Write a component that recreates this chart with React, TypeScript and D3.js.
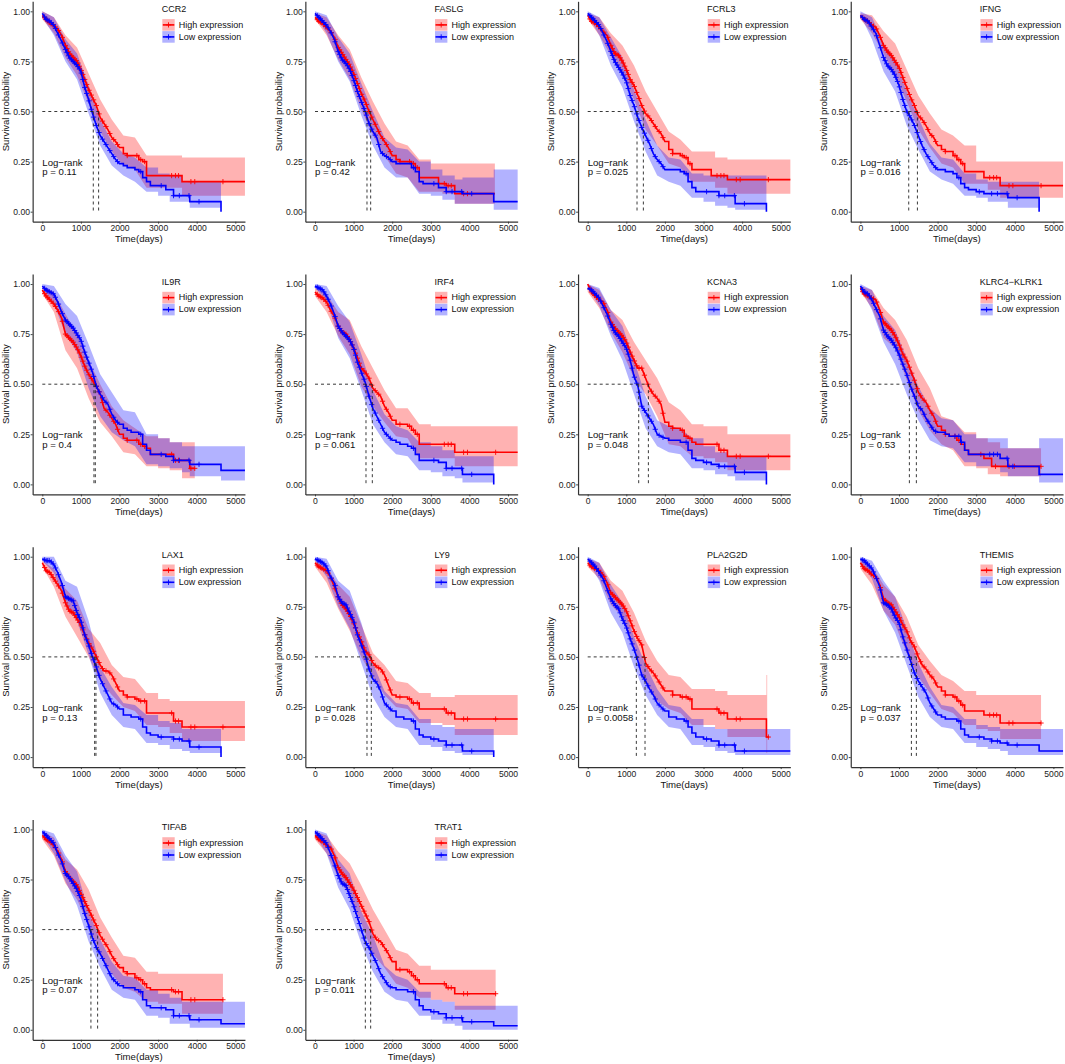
import { useEffect, useRef } from 'react';
import * as d3 from 'd3';

// knots shared by all curves, values below are % survival
const SURV_T = [0,100,200,300,400,500,600,700,800,900,1000,1100,1200,1300,1400,1500,1600,1700,1800,1900,2000,2100,2200,2300,2400,2500,2600,2700,2800,3000,3200,3400,3620,3820,4630];
const CI_T = [0,300,600,900,1200,1500,1800,2100,2400,2700,3000,3300,3620,3820,4630];
const BODY_CENSOR = [60,100,140,180,230,280,340,420,520,600,640,680,720,760,800,840,880,920,960,1010,1050,1100,1150,1210,1270,1330,1400,1470,1560,1650,1750,1850,1950];

const CCR2_HIGH = [98,96,94,93,91,88,83,79,77,75,71,66,61,57,53,47,44,41,37,35,32,29,28,28,28,26,25,18,18,18,18,18,15,15,15];
const CCR2_HIGH_HI = [100,97,88,82,69,56,46,38,37,28,28,28,27,27,27];
const CCR2_HIGH_LO = [96,89,77,68,54,40,30,23,21,12,12,12,8,8,8];
const CCR2_LOW = [99,96,95,93,89,85,81,77,75,73,70,62,56,49,43,38,35,32,29,26,24,23,22,22,21,20,17,15,13,13,11,8,8,5,0];
const CCR2_LOW_HI = [100,97,86,79,63,46,35,29,27,22,19,18,15,15,15];
const CCR2_LOW_LO = [97,88,75,66,49,33,23,18,15,10,8,5,5,2,2];

const FASLG_HIGH = [97,95,94,92,90,87,82,79,76,73,69,64,59,55,50,46,42,38,35,32,28,26,25,25,25,24,22,17,17,17,14,13,9,9,9];
const FASLG_HIGH_HI = [99,97,88,81,67,55,44,35,33,26,24,24,24,24,24];
const FASLG_HIGH_LO = [96,88,76,66,51,38,28,19,17,10,10,9,4,4,4];
const FASLG_LOW = [99,97,95,93,90,86,80,76,74,71,66,60,55,50,44,40,37,30,28,27,25,24,24,24,24,22,20,15,14,14,12,10,10,9,5];
const FASLG_LOW_HI = [100,98,87,79,64,50,37,32,31,25,21,18,16,17,21];
const FASLG_LOW_LO = [98,89,75,65,48,33,22,17,17,9,8,6,4,4,1];

const FCRL3_HIGH = [98,95,94,92,90,88,83,79,78,75,71,66,63,58,53,49,47,44,41,39,35,31,29,29,28,27,24,21,21,21,18,18,16,16,16];
const FCRL3_HIGH_HI = [99,97,89,83,73,60,50,40,36,30,30,27,26,26,26];
const FCRL3_HIGH_LO = [96,88,78,68,56,41,33,24,22,15,15,12,9,9,9];
const FCRL3_LOW = [99,97,95,93,89,85,80,75,72,69,65,58,53,47,42,38,34,29,26,24,21,21,21,21,20,19,15,12,10,10,10,8,8,4,0];
const FCRL3_LOW_HI = [100,97,87,77,61,46,33,27,26,19,18,18,18,18,18];
const FCRL3_LOW_LO = [98,88,73,62,45,30,18,15,13,7,5,3,2,1,1];

const IFNG_HIGH = [98,96,95,93,92,88,83,80,78,75,72,67,62,57,53,48,46,43,39,37,33,31,30,30,28,26,24,20,20,20,17,17,13,13,13];
const IFNG_HIGH_HI = [99,98,90,84,71,58,49,41,38,33,25,25,25,25,25];
const IFNG_HIGH_LO = [96,89,79,68,55,41,32,24,22,14,14,11,7,7,7];
const IFNG_LOW = [98,96,95,92,89,83,77,73,71,68,63,56,50,47,43,38,33,29,26,23,21,21,20,20,19,17,14,12,11,10,9,9,9,7,0];
const IFNG_LOW_HI = [100,97,84,76,60,47,34,27,26,19,16,15,15,15,15];
const IFNG_LOW_LO = [98,86,70,60,43,31,20,16,14,8,7,5,5,2,2];

const IL9R_HIGH = [97,94,92,90,87,83,75,73,71,68,64,59,55,52,49,45,38,36,33,30,25,23,22,22,22,20,19,18,15,15,15,12,12,8,8];
const IL9R_HIGH_HI = [99,96,85,75,62,50,39,32,28,24,23,21,21,21,21];
const IL9R_HIGH_LO = [95,86,67,58,43,31,24,16,15,9,8,7,3,3,3];
const IL9R_LOW = [99,97,96,95,91,86,82,80,78,75,72,66,61,56,49,45,42,40,35,32,30,28,27,26,26,25,20,17,15,15,14,12,12,10,7];
const IL9R_LOW_HI = [100,99,90,84,70,55,46,37,36,25,23,21,19,19,19];
const IL9R_LOW_LO = [98,90,75,66,48,34,26,22,19,10,9,8,6,4,2];

const IRF4_HIGH = [96,94,93,91,87,84,79,76,75,72,68,63,58,56,53,48,46,44,39,36,32,30,30,30,29,27,25,20,20,20,20,20,16,16,16];
const IRF4_HIGH_HI = [98,95,86,82,69,58,47,38,38,30,29,29,29,29,29];
const IRF4_HIGH_LO = [94,86,74,65,49,39,31,24,23,13,13,13,9,9,9];
const IRF4_LOW = [99,98,97,94,90,85,79,76,74,72,68,61,56,51,44,38,34,30,26,24,22,21,20,20,19,18,15,12,12,12,11,8,8,5,0];
const IRF4_LOW_HI = [100,99,89,81,65,47,35,29,27,21,19,17,14,14,14];
const IRF4_LOW_LO = [98,92,73,63,47,30,21,15,14,7,6,4,3,1,1];

const KCNA3_HIGH = [100,96,94,92,91,87,81,78,76,74,71,66,62,58,58,53,48,45,43,40,31,29,28,28,27,24,23,21,20,20,20,17,14,14,14];
const KCNA3_HIGH_HI = [100,97,87,82,71,62,53,41,37,30,29,29,25,25,25];
const KCNA3_HIGH_LO = [96,88,76,66,53,45,34,20,19,14,13,11,7,7,7];
const KCNA3_LOW = [98,97,95,93,89,85,80,76,74,71,68,62,54,49,39,36,33,30,25,24,23,22,22,22,21,21,17,13,12,11,10,9,9,6,0];
const KCNA3_LOW_HI = [100,98,87,79,62,44,32,29,28,23,19,16,14,14,14];
const KCNA3_LOW_LO = [98,89,74,62,45,28,19,16,15,8,7,5,4,2,2];

const KLRC4_HIGH = [98,95,94,93,92,87,81,79,77,74,70,65,62,57,52,46,43,41,37,34,29,27,25,24,24,22,20,17,15,15,13,9,9,9,9];
const KLRC4_HIGH_HI = [99,97,88,82,72,58,48,34,32,26,23,21,18,18,18];
const KLRC4_HIGH_LO = [96,88,73,68,52,37,27,20,17,9,8,5,4,4,4];
const KLRC4_LOW = [99,96,95,92,88,84,77,74,72,69,65,60,55,49,44,39,37,33,30,27,26,26,25,24,24,24,21,17,15,15,15,15,13,9,5];
const KLRC4_LOW_HI = [100,97,84,77,63,49,38,33,32,25,23,23,23,18,23];
const KLRC4_LOW_LO = [98,87,71,60,45,32,22,19,18,11,9,9,6,4,1];

const LAX1_HIGH = [97,93,92,89,86,83,77,73,72,69,66,61,57,54,50,46,43,43,41,37,33,31,30,30,29,28,28,22,22,22,22,18,15,15,15];
const LAX1_HIGH_HI = [98,94,84,78,64,57,46,40,39,32,29,28,28,28,28];
const LAX1_HIGH_LO = [95,85,70,60,50,38,31,25,23,16,15,12,8,8,8];
const LAX1_LOW = [99,98,98,96,92,87,80,79,78,72,68,61,56,50,45,39,35,31,27,26,24,21,21,20,20,19,15,12,11,10,10,9,8,5,0];
const LAX1_LOW_HI = [100,100,88,85,68,45,35,27,26,21,18,17,14,14,14];
const LAX1_LOW_LO = [98,92,76,68,51,32,21,15,14,7,6,4,3,2,2];

const LY9_HIGH = [97,95,94,93,90,85,80,76,74,71,67,62,58,53,51,47,45,44,41,36,31,30,30,30,29,27,27,24,24,24,24,22,19,19,19];
const LY9_HIGH_HI = [98,95,86,80,66,52,46,38,37,32,30,30,31,31,31];
const LY9_HIGH_LO = [95,87,74,63,50,40,31,25,24,17,17,16,11,11,11];
const LY9_LOW = [99,98,97,95,90,87,80,77,76,72,68,61,56,51,44,39,37,33,27,25,23,20,20,19,19,18,14,11,10,9,8,6,6,3,0];
const LY9_LOW_HI = [100,99,88,83,67,47,33,27,26,19,16,15,14,14,14];
const LY9_LOW_LO = [98,90,75,64,47,30,20,15,14,6,5,3,2,1,1];

const PLA2G2D_HIGH = [97,95,94,93,91,87,82,80,78,76,73,68,63,59,56,47,44,42,39,36,33,33,31,31,30,30,29,24,24,24,24,22,19,19,10];
const PLA2G2D_HIGH_HI = [99,97,88,83,72,58,48,41,40,34,34,33,31,31,41];
const PLA2G2D_HIGH_LO = [95,89,76,70,55,37,28,24,22,16,16,14,10,10,2];
const PLA2G2D_LOW = [99,97,95,92,89,84,79,76,74,69,65,59,54,48,41,38,34,31,27,25,23,20,20,19,19,18,15,12,10,9,8,6,6,3,3];
const PLA2G2D_LOW_HI = [100,97,86,77,60,46,34,26,25,19,15,14,14,14,14];
const PLA2G2D_LOW_LO = [98,88,72,62,45,31,21,15,14,6,5,3,2,1,1];

const THEMIS_HIGH = [97,94,93,91,90,86,79,77,76,73,70,66,63,58,55,50,46,44,41,39,35,33,31,31,30,28,26,23,23,23,21,21,17,17,17];
const THEMIS_HIGH_HI = [99,95,86,80,70,56,48,41,38,33,31,31,31,31,31];
const THEMIS_HIGH_LO = [94,86,73,66,52,40,32,24,22,16,14,13,9,9,9];
const THEMIS_LOW = [99,98,96,94,90,85,77,76,74,70,67,60,54,48,42,38,35,32,27,24,21,20,19,19,19,18,14,11,10,10,9,8,7,6,3];
const THEMIS_LOW_HI = [100,98,88,80,64,47,35,26,25,19,16,15,14,14,14];
const THEMIS_LOW_LO = [97,89,73,62,46,30,20,15,14,7,5,4,3,1,1];

const TIFAB_HIGH = [97,95,94,92,89,85,79,76,74,72,68,64,60,56,52,47,44,41,37,34,31,29,28,28,26,25,23,21,20,20,20,19,15,15,15];
const TIFAB_HIGH_HI = [99,96,85,80,70,56,46,37,36,29,28,28,28,28,28];
const TIFAB_HIGH_LO = [95,87,73,65,52,38,28,21,19,14,13,13,8,8,8];
const TIFAB_LOW = [99,97,95,93,88,84,78,76,73,70,65,58,52,46,41,38,34,30,26,24,22,21,21,21,20,19,15,12,11,11,10,7,7,5,3];
const TIFAB_LOW_HI = [100,98,87,79,59,45,34,27,26,20,18,16,14,14,14];
const TIFAB_LOW_LO = [97,88,74,62,44,31,20,16,15,7,6,3,3,1,1];

const TRAT1_HIGH = [97,95,94,92,91,87,81,78,76,73,70,66,62,58,54,48,45,44,41,38,34,30,30,30,29,27,25,23,23,23,23,21,18,18,18];
const TRAT1_HIGH_HI = [99,97,89,83,72,60,50,40,38,32,30,30,30,30,30];
const TRAT1_HIGH_LO = [95,88,76,67,53,38,31,23,21,16,15,14,10,10,10];
const TRAT1_LOW = [99,97,95,93,88,83,77,73,72,67,62,56,50,44,41,37,33,28,25,22,21,20,20,20,19,19,15,12,10,9,8,6,6,4,2];
const TRAT1_LOW_HI = [100,98,85,78,59,47,32,27,25,19,15,14,12,12,12];
const TRAT1_LOW_LO = [97,88,71,60,43,29,19,15,14,7,5,3,2,0,0];

const HIGH_CENSOR = [2200,2450,2550,2650,3350,3450,3530,3850,3950,4680];
const LOW_CENSOR = [2550,3080,3400,3550,3800,4060];
const KLRC4_HIGH_CENSOR = [2200,2450,2550,3120,3500,3850,3990,4680];
const KLRC4_LOW_CENSOR = [2450,2550,2620,3350,3450,3550,3800,3950];

const mk = (gene: string, p: string, med: number[], high: number[][], highEnd: number, low: number[][], lowEnd: number, bandEnd?: number, censor?: number[][]) =>
  ({ gene, p, med, censor: censor ?? [HIGH_CENSOR, LOW_CENSOR], high: { s: high[0], hi: high[1], lo: high[2], end: highEnd, bandEnd: bandEnd ?? highEnd }, low: { s: low[0], hi: low[1], lo: low[2], end: lowEnd, bandEnd: lowEnd } });

const PANELS = [
  mk('CCR2', '0.11', [1321, 1459], [CCR2_HIGH, CCR2_HIGH_HI, CCR2_HIGH_LO], 5250, [CCR2_LOW, CCR2_LOW_HI, CCR2_LOW_LO], 4630),
  mk('FASLG', '0.42', [1347, 1442], [FASLG_HIGH, FASLG_HIGH_HI, FASLG_HIGH_LO], 4660, [FASLG_LOW, FASLG_LOW_HI, FASLG_LOW_LO], 5250),
  mk('FCRL3', '0.025', [1278, 1442], [FCRL3_HIGH, FCRL3_HIGH_HI, FCRL3_HIGH_LO], 5250, [FCRL3_LOW, FCRL3_LOW_HI, FCRL3_LOW_LO], 4630),
  mk('IFNG', '0.016', [1252, 1477], [IFNG_HIGH, IFNG_HIGH_HI, IFNG_HIGH_LO], 5250, [IFNG_LOW, IFNG_LOW_HI, IFNG_LOW_LO], 4630),
  mk('IL9R', '0.4', [1338, 1373], [IL9R_HIGH, IL9R_HIGH_HI, IL9R_HIGH_LO], 3950, [IL9R_LOW, IL9R_LOW_HI, IL9R_LOW_LO], 5250),
  mk('IRF4', '0.061', [1321, 1485], [IRF4_HIGH, IRF4_HIGH_HI, IRF4_HIGH_LO], 5250, [IRF4_LOW, IRF4_LOW_HI, IRF4_LOW_LO], 4630),
  mk('KCNA3', '0.048', [1321, 1572], [KCNA3_HIGH, KCNA3_HIGH_HI, KCNA3_HIGH_LO], 5250, [KCNA3_LOW, KCNA3_LOW_HI, KCNA3_LOW_LO], 4630),
  mk('KLRC4\u2212KLRK1', '0.53', [1269, 1450], [KLRC4_HIGH, KLRC4_HIGH_HI, KLRC4_HIGH_LO], 4680, [KLRC4_LOW, KLRC4_LOW_HI, KLRC4_LOW_LO], 5250, undefined, [KLRC4_HIGH_CENSOR, KLRC4_LOW_CENSOR]),
  mk('LAX1', '0.13', [1356, 1390], [LAX1_HIGH, LAX1_HIGH_HI, LAX1_HIGH_LO], 5250, [LAX1_LOW, LAX1_LOW_HI, LAX1_LOW_LO], 4630),
  mk('LY9', '0.028', [1347, 1459], [LY9_HIGH, LY9_HIGH_HI, LY9_HIGH_LO], 5250, [LY9_LOW, LY9_LOW_HI, LY9_LOW_LO], 4630),
  mk('PLA2G2D', '0.0058', [1260, 1485], [PLA2G2D_HIGH, PLA2G2D_HIGH_HI, PLA2G2D_HIGH_LO], 4700, [PLA2G2D_LOW, PLA2G2D_LOW_HI, PLA2G2D_LOW_LO], 5250, 4650),
  mk('THEMIS', '0.037', [1321, 1450], [THEMIS_HIGH, THEMIS_HIGH_HI, THEMIS_HIGH_LO], 4680, [THEMIS_LOW, THEMIS_LOW_HI, THEMIS_LOW_LO], 5250),
  mk('TIFAB', '0.07', [1260, 1433], [TIFAB_HIGH, TIFAB_HIGH_HI, TIFAB_HIGH_LO], 4680, [TIFAB_LOW, TIFAB_LOW_HI, TIFAB_LOW_LO], 5250),
  mk('TRAT1', '0.011', [1304, 1442], [TRAT1_HIGH, TRAT1_HIGH_HI, TRAT1_HIGH_LO], 4680, [TRAT1_LOW, TRAT1_LOW_HI, TRAT1_LOW_LO], 5250),
];

const FONT = '"Liberation Sans", Arial, sans-serif';
const PITCH = 272.7;
const RED = '#ff0000';
const BLUE = '#0000ff';
const PLUS = 'M-2.6,0H2.6M0,-2.6V2.6';

// linear through the crowded part of the curve, real steps after stepFrom
function toPoints(knots: number[], v: number[], end: number, stepFrom: number) {
  const pts: [number, number][] = [];
  const n = knots.filter((k) => k <= end).length;
  for (let i = 0; i < n; i++) {
    pts.push([knots[i], v[i]]);
    const next = i + 1 < n ? knots[i + 1] : end;
    if (knots[i] >= stepFrom && next > knots[i]) pts.push([next, v[i]]);
  }
  return pts;
}

function valueAt(pts: [number, number][], t: number) {
  const i = d3.bisector((d: [number, number]) => d[0]).right(pts, t);
  if (i >= pts.length) return pts[pts.length - 1][1];
  const a = pts[i - 1], b = pts[i];
  return a[1] + ((b[1] - a[1]) * (t - a[0])) / ((b[0] - a[0]) || 1);
}

export default function App() {
  const ref = useRef<SVGSVGElement | null>(null);
  useEffect(() => {
    const svg = d3.select(ref.current!);
    svg.selectAll('*').remove();
    svg.append('rect').attr('width', 1065).attr('height', 1064).attr('fill', '#fff');
    const x = d3.scaleLinear().domain([-250, 5250]).range([-9.65, 202.65]);
    const y = d3.scaleLinear().domain([-5, 105]).range([210.4, -10]);
    const line = d3.line<[number, number]>().x((d) => x(d[0])).y((d) => y(d[1]));
    const area = d3.area<[number, number, number]>().x((d) => x(d[0])).y0((d) => y(d[1])).y1((d) => y(d[2]));

    PANELS.forEach((panel, i) => {
      const g = svg.append('g').attr('font-family', FONT)
        .attr('transform', `translate(${42.3 + (i % 4) * PITCH},${11.3 + Math.floor(i / 4) * PITCH})`);

      const series = [
        { d: panel.high, color: RED, censor: panel.censor[0] },
        { d: panel.low, color: BLUE, censor: panel.censor[1] },
      ];
      series.forEach(({ d, color }) => {
        const lo = toPoints(CI_T, d.lo, d.bandEnd, 2700);
        const hi = toPoints(CI_T, d.hi, d.bandEnd, 2700);
        g.append('path').attr('d', area(lo.map((p, j) => [p[0], p[1], hi[j][1]]))!).attr('fill', color).attr('fill-opacity', 0.3);
      });
      series.forEach(({ d, color, censor }) => {
        const pts = toPoints(SURV_T, d.s, d.end, 2000);
        g.append('path').attr('d', line(pts)!).attr('fill', 'none').attr('stroke', color).attr('stroke-width', 1.6);
        [...BODY_CENSOR, ...censor].filter((t) => t <= d.end).forEach((t) => {
          g.append('path').attr('d', PLUS).attr('fill', 'none').attr('stroke', color).attr('stroke-width', 0.9)
            .attr('transform', `translate(${x(t)},${y(valueAt(pts, t))})`);
        });
      });

      // median survival guides
      const dash = (x1: number, y1: number, x2: number, y2: number) =>
        g.append('line').attr('x1', x(x1)).attr('y1', y(y1)).attr('x2', x(x2)).attr('y2', y(y2))
          .attr('stroke', '#222').attr('stroke-width', 0.9).attr('stroke-dasharray', '3,3');
      dash(0, 50, panel.med[1], 50);
      panel.med.forEach((m) => dash(m, 50, m, 0));

      const axX = g.append('g').attr('transform', `translate(0,${y(-5)})`)
        .call(d3.axisBottom(x).tickValues([0, 1000, 2000, 3000, 4000, 5000]).tickSize(2).tickSizeOuter(0).tickPadding(1.5).tickFormat(d3.format('d') as any));
      const axY = g.append('g').attr('transform', `translate(${x(-250)},0)`)
        .call(d3.axisLeft(y).tickValues([0, 25, 50, 75, 100]).tickSize(2).tickSizeOuter(0).tickPadding(0.6).tickFormat((d) => (Number(d) / 100).toFixed(2)));
      [axX, axY].forEach((ax) => {
        ax.select('.domain').attr('stroke', '#333').attr('stroke-width', 1.2);
        ax.selectAll('.tick line').attr('stroke', '#333').attr('stroke-width', 0.9);
        ax.selectAll('text').attr('font-size', 8.6).attr('font-family', FONT).attr('fill', '#1a1a1a');
      });

      g.append('text').attr('x', x(2500)).attr('y', y(0) + 30.5).attr('text-anchor', 'middle').attr('font-size', 9.6).attr('fill', '#111').text('Time(days)');
      g.append('text').attr('transform', `translate(-33.3,${y(50)}) rotate(-90)`).attr('text-anchor', 'middle').attr('font-size', 9.5).attr('fill', '#111').text('Survival probability');
      g.append('text').attr('x', 0).attr('y', y(0) - 46).attr('font-size', 9.6).attr('fill', '#111').text('Log\u2212rank');
      g.append('text').attr('x', 0).attr('y', y(0) - 36.5).attr('font-size', 9.6).attr('fill', '#111').text(`p = ${panel.p}`);

      // legend
      g.append('text').attr('x', 119.4).attr('y', 1).attr('font-size', 9).attr('fill', '#111').text(panel.gene);
      [{ label: 'High expression', color: RED, top: 7.8 }, { label: 'Low expression', color: BLUE, top: 19.8 }].forEach((l) => {
        g.append('rect').attr('x', 120).attr('y', l.top).attr('width', 12.4).attr('height', 11.6).attr('fill', l.color).attr('fill-opacity', 0.3);
        g.append('line').attr('x1', 120.5).attr('x2', 132).attr('y1', l.top + 5.8).attr('y2', l.top + 5.8).attr('stroke', l.color).attr('stroke-width', 1.6);
        g.append('path').attr('d', PLUS).attr('fill', 'none').attr('stroke', l.color).attr('stroke-width', 0.9).attr('transform', `translate(126.2,${l.top + 5.8})`);
        g.append('text').attr('x', 136.4).attr('y', l.top + 8.6).attr('font-size', 9).attr('fill', '#111').text(l.label);
      });
    });
  }, []);
  return <svg ref={ref} width={1065} height={1064} style={{ position: 'absolute', left: 0, top: 0 }} />;
}
